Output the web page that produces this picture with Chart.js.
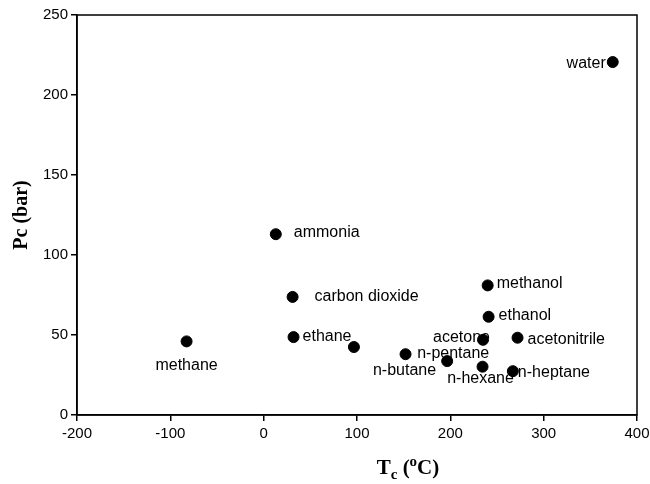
<!DOCTYPE html>
<html lang="en">
<head>
  <meta charset="UTF-8">
  <title>Critical temperature vs critical pressure</title>
  <script src="https://cdn.jsdelivr.net/npm/chart.js"></script>
  <style>
    body {
      margin: 0;
      background: #ffffff;
    }
    #wrap {
      width: 650px;
      height: 484px;
    }
  </style>
</head>
<body>
  <div id="wrap"><canvas id="scatter"></canvas></div>

  <script>
    // data
    const compounds = ['water', 'ammonia', 'carbon dioxide', 'ethane', 'methane', 'propane',
      'n-butane', 'n-pentane', 'n-hexane', 'acetone', 'n-heptane', 'acetonitrile', 'ethanol', 'methanol'];
    const tc = [374, 13, 31, 32, -82.6, 96.7, 152, 196.6, 234.5, 235, 267, 272, 241, 240];
    const pc = [220.6, 113, 73.8, 48.7, 46, 42.5, 38, 33.7, 30.2, 47, 27.4, 48.3, 61.4, 81];
    const xTicks = [-200, -100, 0, 100, 200, 300, 400];
    const yTicks = [0, 50, 100, 150, 200, 250];

    // where each label sits relative to its dot (pixels), and its alignment
    const labelPlace = {
      'water':          { dx: -7, dy: 2, align: 'right' },
      'ammonia':        { dx: 18, dy: -2, align: 'left' },
      'carbon dioxide': { dx: 22, dy: 0, align: 'left' },
      'ethane':         { dx: 9, dy: 0, align: 'left' },
      'methane':        { dx: 0, dy: 24, align: 'center' },
      'n-butane':       { dx: -1, dy: 16, align: 'center' },
      'n-pentane':      { dx: -30, dy: -7, align: 'left' },
      'n-hexane':       { dx: -2, dy: 12, align: 'center' },
      'acetone':        { dx: 7, dy: -2, align: 'right' },
      'n-heptane':      { dx: 5, dy: 1, align: 'left' },
      'acetonitrile':   { dx: 10, dy: 2, align: 'left' },
      'ethanol':        { dx: 10, dy: -1, align: 'left' },
      'methanol':       { dx: 9, dy: -2, align: 'left' }
    };

    const points = tc.map((t, i) => ({ x: t, y: pc[i], name: compounds[i] }));

    const decorations = {
      id: 'decorations',
      afterDraw(chart) {
        const ctx = chart.ctx;
        const area = chart.chartArea;
        const xs = chart.scales.x;
        const ys = chart.scales.y;
        ctx.save();

        // frame round the plot
        ctx.strokeStyle = '#000';
        ctx.lineWidth = 1.5;
        ctx.strokeRect(area.left, area.top, area.right - area.left, area.bottom - area.top);

        // point labels
        ctx.fillStyle = '#000';
        ctx.font = '16px "Liberation Sans", Arial, sans-serif';
        ctx.textBaseline = 'middle';
        points.forEach(p => {
          const place = labelPlace[p.name];
          if (!place) return;
          ctx.textAlign = place.align;
          ctx.fillText(p.name, xs.getPixelForValue(p.x) + place.dx, ys.getPixelForValue(p.y) + place.dy);
        });

        // x axis title: T subscript c (superscript o C)
        const big = 'bold 21px "Liberation Serif", "Times New Roman", serif';
        const small = 'bold 15px "Liberation Serif", "Times New Roman", serif';
        const parts = [
          { t: 'T', f: big, dy: 0 },
          { t: 'c', f: small, dy: 5 },
          { t: ' (', f: big, dy: 0 },
          { t: 'o', f: small, dy: -8 },
          { t: 'C)', f: big, dy: 0 }
        ];
        let total = 0;
        parts.forEach(p => { ctx.font = p.f; p.w = ctx.measureText(p.t).width; total += p.w; });
        let x = 408 - total / 2;
        const baseY = 474;
        ctx.textAlign = 'left';
        ctx.textBaseline = 'alphabetic';
        parts.forEach(p => {
          ctx.font = p.f;
          ctx.fillText(p.t, x, baseY + p.dy);
          x += p.w;
        });

        // y axis title
        ctx.translate(27, (area.top + area.bottom) / 2);
        ctx.rotate(-Math.PI / 2);
        ctx.font = 'bold 20px "Liberation Serif", "Times New Roman", serif';
        ctx.textAlign = 'center';
        ctx.fillText('Pc (bar)', 0, 0);
        ctx.restore();
      }
    };

    new Chart(document.getElementById('scatter'), {
      type: 'scatter',
      data: {
        datasets: [{
          label: 'critical point',
          data: points,
          backgroundColor: '#000',
          borderColor: '#000',
          pointRadius: 5.5,
          pointHoverRadius: 5.5
        }]
      },
      options: {
        responsive: true,
        maintainAspectRatio: false,
        animation: false,
        layout: { padding: { top: 15, right: 13, left: 0, bottom: 0 } },
        plugins: {
          legend: { display: false },
          tooltip: { enabled: false }
        },
        scales: {
          x: {
            type: 'linear',
            min: xTicks[0],
            max: xTicks[xTicks.length - 1],
            afterBuildTicks: s => { s.ticks = xTicks.map(v => ({ value: v })); },
            afterFit: s => { s.height = 69; s.paddingLeft = 0; s.paddingRight = 0; },
            grid: { drawOnChartArea: false, tickLength: 6, color: '#000', lineWidth: 1.5 },
            border: { color: '#000', width: 1.5 },
            ticks: {
              color: '#000',
              font: { family: '"Liberation Sans", Arial, sans-serif', size: 15 },
              padding: 4,
              maxRotation: 0
            }
          },
          y: {
            type: 'linear',
            min: yTicks[0],
            max: yTicks[yTicks.length - 1],
            afterBuildTicks: s => { s.ticks = yTicks.map(v => ({ value: v })); },
            afterFit: s => { s.width = 77; s.paddingTop = 0; s.paddingBottom = 0; },
            grid: { drawOnChartArea: false, tickLength: 6, color: '#000', lineWidth: 1.5 },
            border: { color: '#000', width: 1.5 },
            ticks: {
              color: '#000',
              font: { family: '"Liberation Sans", Arial, sans-serif', size: 15 },
              padding: 3
            }
          }
        }
      },
      plugins: [decorations]
    });
  </script>
</body>
</html>
